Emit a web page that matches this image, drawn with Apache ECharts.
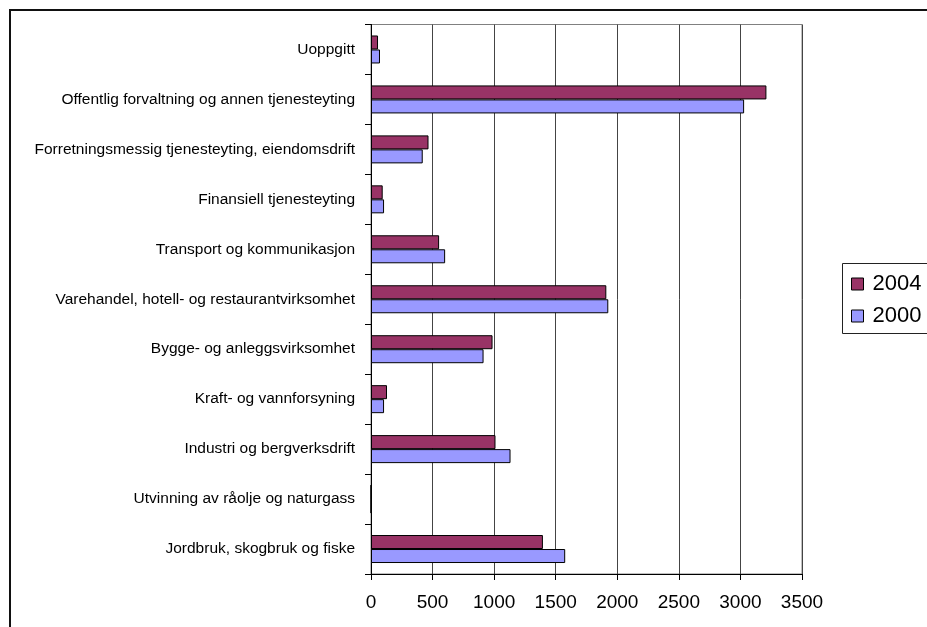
<!DOCTYPE html>
<html>
<head>
<meta charset="utf-8">
<script src="https://cdn.jsdelivr.net/npm/echarts@6/dist/echarts.min.js"></script>
<style>
  html, body { margin: 0; padding: 0; background: #fff; }
  #chart { width: 927px; height: 627px; }
</style>
</head>
<body>
<div id="chart"></div>
<script>
// Industries, listed bottom to top as they appear on the category axis
const categories = [
  'Jordbruk, skogbruk og fiske',
  'Utvinning av råolje og naturgass',
  'Industri og bergverksdrift',
  'Kraft- og vannforsyning',
  'Bygge- og anleggsvirksomhet',
  'Varehandel, hotell- og restaurantvirksomhet',
  'Transport og kommunikasjon',
  'Finansiell tjenesteyting',
  'Forretningsmessig tjenesteyting, eiendomsdrift',
  'Offentlig forvaltning og annen tjenesteyting',
  'Uoppgitt'
];
const values2004 = [1396, 0, 1011, 130, 987, 1911, 553, 95, 467, 3211, 57];
const values2000 = [1577, 0, 1133, 106, 914, 1927, 602, 106, 420, 3030, 73];
const seriesNames = ['2004', '2000'];
const axisTicks = { min: 0, max: 3500, step: 500 };

const FONT = '"Liberation Sans", Arial, sans-serif';
const chart = echarts.init(document.getElementById('chart'), null, { renderer: 'canvas' });

chart.setOption({
  backgroundColor: '#ffffff',
  animation: false,
  grid: {
    left: 371, right: 125, top: 24.5, bottom: 53,
    show: true, borderColor: '#808080', borderWidth: 1
  },
  xAxis: {
    type: 'value',
    min: axisTicks.min, max: axisTicks.max, interval: axisTicks.step,
    axisLine: { show: true, lineStyle: { color: '#000', width: 1 } },
    axisTick: { show: true, length: 6, lineStyle: { color: '#000' } },
    axisLabel: {
      color: '#000', fontFamily: FONT, fontSize: 19, margin: 19,
      formatter: (v) => String(v)
    },
    splitLine: { show: true, lineStyle: { color: '#444', width: 1 } }
  },
  yAxis: {
    type: 'category',
    data: categories,
    axisLine: { show: true, lineStyle: { color: '#000', width: 1 } },
    axisTick: { show: true, length: 6, lineStyle: { color: '#000' } },
    axisLabel: { color: '#000', fontFamily: FONT, fontSize: 15.5, margin: 16 },
    splitLine: { show: false }
  },
  legend: {
    orient: 'vertical',
    left: 851, top: 273,
    padding: 0,
    itemWidth: 12, itemHeight: 12, itemGap: 10,
    icon: 'rect',
    itemStyle: { borderColor: '#000', borderWidth: 1 },
    textStyle: { color: '#000', fontFamily: FONT, fontSize: 22, lineHeight: 22, padding: [0, 0, 0, 4] },
    data: seriesNames
  },
  graphic: [
    { type: 'rect', shape: { x: 10, y: 10, width: 1000, height: 700 },
      style: { fill: 'none', stroke: '#111', lineWidth: 2 }, silent: true, z: -1 },
    { type: 'rect', shape: { x: 842.5, y: 263.5, width: 200, height: 70 },
      style: { fill: 'none', stroke: '#222', lineWidth: 1 }, silent: true }
  ],
  series: [
    {
      name: seriesNames[0], type: 'bar', data: values2004,
      barWidth: 14, barGap: '0%',
      itemStyle: { color: '#993366', borderColor: '#000', borderWidth: 1 }
    },
    {
      name: seriesNames[1], type: 'bar', data: values2000,
      barWidth: 14, barGap: '0%',
      itemStyle: { color: '#9999ff', borderColor: '#000', borderWidth: 1 }
    }
  ]
});
</script>
</body>
</html>
